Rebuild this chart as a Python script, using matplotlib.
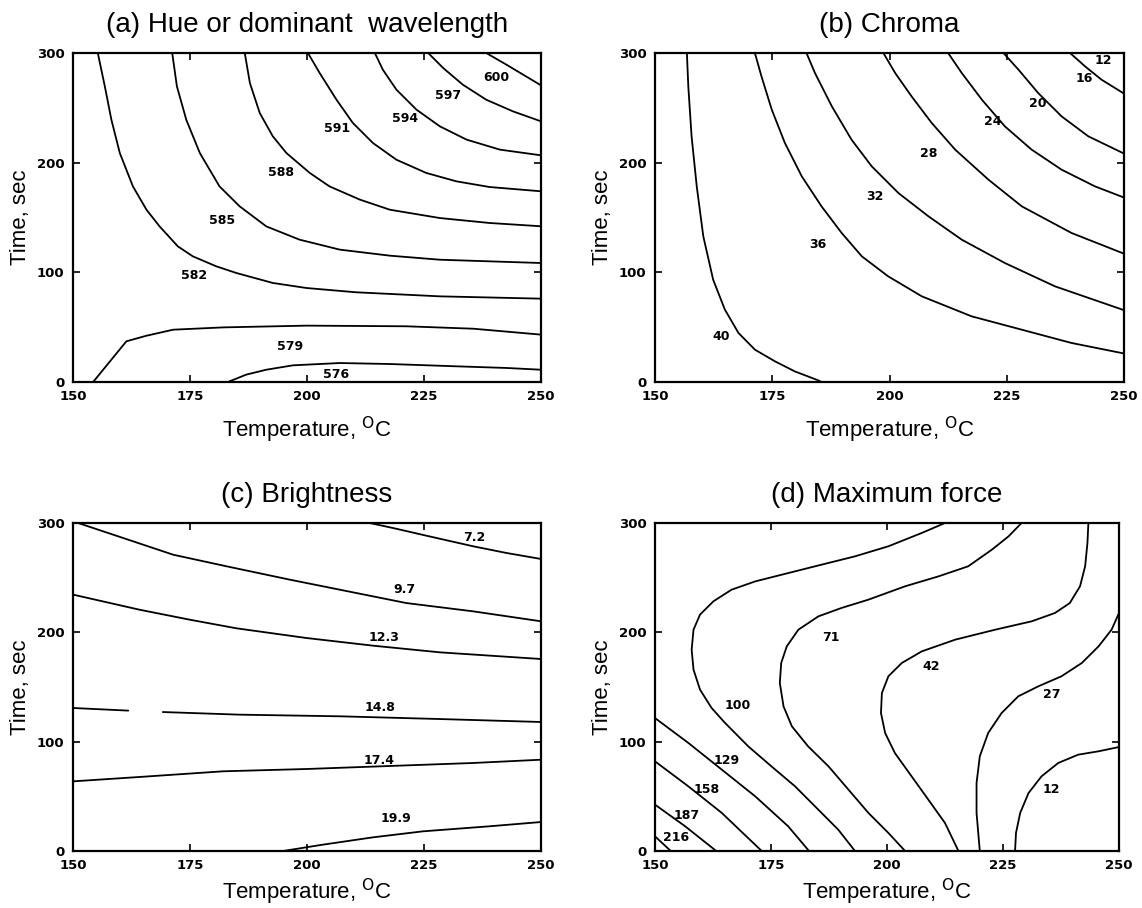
import numpy as np
import matplotlib
matplotlib.use("Agg")
import matplotlib.pyplot as plt

# ---- (a) hue / dominant wavelength, contours as (temperature, time) traces
hue_levels = ["600", "597", "594", "591", "588", "585", "582", "579", "576"]
hue_temp = [
    [238.3, 242.6, 246.2, 250.0],
    [225.9, 229.1, 233.3, 238.3, 244.0, 250.0],
    [214.5, 216.2, 219.1, 223.4, 228.4, 234.1, 241.2, 250.0],
    [200.2, 202.7, 206.3, 209.8, 214.1, 219.1, 225.5, 231.9, 239.0, 250.0],
    [186.7, 187.8, 189.9, 192.7, 195.6, 200.6, 204.8, 211.3, 217.7, 228.4, 239.0, 250.0],
    [171.2, 172.2, 174.2, 177.1, 181.3, 185.6, 191.3, 198.4, 207.0, 217.7, 228.4, 250.0],
    [155.3, 156.8, 158.2, 160.0, 162.8, 165.7, 168.5, 172.4, 175.6, 180.6, 184.9,
     192.7, 199.9, 210.5, 228.4, 250.0],
    [154.3, 161.4, 165.7, 171.4, 182.1, 199.9, 221.2, 235.5, 250.0],
    [183.1, 187.0, 191.3, 197.0, 207.0, 217.7, 231.9, 242.6, 250.0],
]
hue_time = [
    [300.0, 289.4, 280.2, 270.5],
    [300.0, 286.3, 271.1, 257.4, 246.8, 237.7],
    [300.0, 284.8, 266.6, 248.3, 233.1, 221.0, 211.9, 206.7],
    [300.0, 281.8, 257.4, 236.2, 217.9, 202.7, 190.6, 183.0, 177.8, 173.9],
    [300.0, 272.6, 245.3, 224.0, 208.8, 190.6, 178.4, 166.3, 157.1, 149.5, 145.0, 142.0],
    [300.0, 269.6, 239.2, 208.8, 178.4, 160.2, 141.9, 129.8, 120.7, 115.2, 111.5, 108.5],
    [300.0, 269.6, 239.2, 208.8, 178.4, 157.1, 141.9, 123.7, 114.6, 105.5, 99.4,
     90.3, 85.7, 81.8, 78.1, 76.0],
    [0.0, 37.1, 42.2, 47.7, 49.8, 51.4, 50.8, 48.6, 43.2],
    [0.0, 6.7, 11.2, 15.2, 17.3, 16.4, 14.3, 12.8, 11.2],
]
hue_lab_temp = [240.5, 230.1, 220.9, 206.5, 194.5, 181.8, 175.8, 196.3, 206.3]
hue_lab_time = [277.8, 261.4, 240.1, 230.7, 190.6, 147.1, 97.0, 32.5, 6.7]

# ---- (b) chroma
chroma_levels = ["40", "36", "32", "28", "24", "20", "16", "12"]
chroma_temp = [
    [156.8, 157.1, 157.8, 158.9, 160.3, 162.4, 164.9, 167.8, 171.3, 175.6, 179.8,
     184.8, 185.5],
    [171.3, 172.7, 174.9, 177.7, 181.3, 185.5, 189.8, 194.1, 199.7, 206.9, 217.5,
     228.2, 238.8, 250.0],
    [182.3, 184.1, 187.7, 191.9, 196.2, 201.9, 208.3, 215.4, 224.6, 235.3, 250.0],
    [198.7, 201.2, 204.7, 209.0, 214.0, 221.1, 228.2, 238.8, 250.0],
    [212.5, 215.4, 219.7, 224.6, 230.3, 236.7, 243.8, 250.0],
    [224.3, 227.5, 231.7, 236.7, 242.4, 250.0],
    [238.5, 241.7, 245.2, 250.0],
]
chroma_time = [
    [300.0, 269.6, 224.0, 178.4, 132.8, 93.3, 66.0, 44.7, 29.5, 18.8, 9.7, 1.5, 0.0],
    [300.0, 278.7, 248.3, 217.9, 187.5, 160.2, 135.9, 114.6, 96.4, 78.1, 59.9,
     47.7, 35.6, 26.0],
    [300.0, 281.8, 251.4, 221.0, 196.7, 172.3, 151.1, 129.8, 108.5, 87.2, 65.5],
    [300.0, 281.8, 260.5, 236.2, 211.9, 184.5, 160.2, 135.9, 117.0],
    [300.0, 281.8, 257.4, 233.1, 211.9, 193.6, 178.4, 168.2],
    [300.0, 284.8, 263.5, 242.2, 224.0, 208.3],
    [300.0, 287.8, 275.7, 263.0],
]
chroma_lab_temp = [164.2, 184.8, 196.8, 208.4, 222.1, 231.6, 241.5, 245.6]
chroma_lab_time = [41.6, 125.2, 169.3, 208.2, 237.1, 254.4, 276.3, 293.3]

# ---- (c) brightness (14.8 line has a break near 165 C)
bright_levels = ["7.2", "9.7", "12.3", "14.8", "17.4", "19.9"]
bright_temp = [
    [213.4, 218.4, 225.5, 235.5, 242.6, 250.0],
    [151.1, 160.7, 171.4, 182.8, 196.3, 210.5, 221.2, 235.5, 250.0],
    [150.0, 164.2, 174.9, 184.9, 199.9, 214.1, 228.4, 250.0],
    [150.0, 161.8, 165.5, 169.2, 185.6, 207.0, 228.4, 250.0],
    [150.0, 164.2, 182.1, 199.9, 221.2, 235.5, 250.0],
    [194.9, 203.4, 214.1, 224.8, 239.0, 250.0],
]
bright_time = [
    [300.0, 295.4, 288.4, 278.7, 272.6, 267.1],
    [300.0, 286.3, 271.0, 260.4, 248.2, 236.0, 226.8, 219.2, 210.1],
    [234.5, 220.7, 211.6, 203.7, 194.8, 187.8, 181.7, 175.6],
    [130.8, 128.4, np.nan, 127.1, 124.7, 123.2, 120.7, 118.0],
    [63.7, 67.7, 72.9, 75.0, 78.3, 80.5, 83.5],
    [0.0, 5.8, 12.5, 18.0, 22.6, 26.5],
]
bright_lab_temp = [235.8, 220.9, 216.4, 215.7, 215.5, 219.1]
bright_lab_time = [286.3, 239.6, 195.4, 131.4, 82.9, 29.3]

# ---- (d) maximum force
force_levels = ["216", "187", "158", "129", "100", "71", "42", "27", "12"]
force_temp = [
    [150.0, 153.4],
    [150.0, 156.5, 163.2],
    [150.0, 157.2, 164.4, 173.0],
    [150.0, 157.2, 164.4, 171.6, 178.7, 183.2],
    [212.5, 207.5, 200.3, 193.1, 184.5, 177.3, 171.6, 166.5, 162.6, 159.7, 158.3,
     157.9, 158.3, 159.7, 162.2, 165.1, 170.1, 175.1, 180.2, 185.2, 189.5, 193.1],
    [229.0, 226.2, 222.6, 217.5, 211.1, 203.9, 196.0, 190.2, 185.2, 180.9, 178.4,
     177.2, 176.9, 177.7, 179.5, 183.0, 187.4, 191.7, 196.0, 200.3, 203.9],
    [243.4, 243.2, 242.7, 241.6, 239.4, 236.2, 231.2, 223.3, 214.7, 207.5, 203.2,
     200.3, 198.9, 198.7, 199.6, 201.7, 205.3, 208.9, 212.5, 215.4],
    [250.0, 248.4, 245.6, 242.0, 237.6, 232.6, 228.3, 224.7, 221.8, 220.0, 219.3,
     219.3, 220.0],
    [250.0, 245.6, 241.2, 236.9, 233.3, 230.5, 228.7, 227.8, 227.6],
]
force_time = [
    [13.4, 0.0],
    [42.4, 22.6, 0.0],
    [82.0, 59.1, 34.8, 0.0],
    [121.6, 98.8, 74.4, 50.0, 22.6, 0.0],
    [300.0, 290.9, 278.7, 269.5, 260.4, 252.7, 246.6, 239.0, 228.4, 216.2, 202.4,
     184.1, 165.9, 147.6, 130.8, 117.1, 95.7, 77.4, 59.1, 37.8, 19.5, 0.0],
    [300.0, 287.8, 275.6, 260.4, 251.2, 242.1, 229.9, 222.3, 214.6, 202.4, 187.2,
     172.0, 153.7, 132.3, 114.0, 95.7, 77.4, 56.1, 34.8, 16.5, 0.0],
    [300.0, 281.7, 260.4, 242.1, 226.8, 217.7, 210.1, 202.4, 193.3, 182.6, 172.0,
     159.8, 144.5, 126.2, 107.9, 89.6, 68.3, 47.0, 25.6, 0.0],
    [217.7, 202.4, 187.2, 172.0, 159.8, 150.6, 141.5, 126.2, 107.9, 86.6, 62.2,
     34.8, 0.0],
    [95.1, 91.2, 88.1, 80.5, 68.3, 53.0, 34.8, 16.5, 0.0],
]
force_lab_temp = [154.5, 156.8, 161.1, 165.4, 167.8, 187.9, 209.5, 235.5, 235.5]
force_lab_time = [11.9, 32.9, 56.1, 82.9, 132.9, 195.7, 168.9, 143.0, 56.1]

x_ticks = [150, 175, 200, 225, 250]
y_ticks = [0, 100, 200, 300]

panels = [
    ("(a) Hue or dominant  wavelength", hue_temp, hue_time, hue_levels,
     hue_lab_temp, hue_lab_time),
    ("(b) Chroma", chroma_temp, chroma_time, chroma_levels,
     chroma_lab_temp, chroma_lab_time),
    ("(c) Brightness", bright_temp, bright_time, bright_levels,
     bright_lab_temp, bright_lab_time),
    ("(d) Maximum force", force_temp, force_time, force_levels,
     force_lab_temp, force_lab_time),
]

W, H = 1142, 908
fig = plt.figure(figsize=(W / 100, H / 100), dpi=100)
# axes boxes in pixels: left, top, right, bottom
boxes = [(73, 53, 541, 382), (655, 53, 1124, 382),
         (73, 523, 541, 851), (655, 523, 1119, 851)]
xlabel_pads = [8, 8, 3, 3]

sans = ["Liberation Sans", "DejaVu Sans"]
for (title, temps, times, labs, lx, ly), (l, t, r, b), xpad in zip(panels, boxes, xlabel_pads):
    ax = fig.add_axes([l / W, 1 - b / H, (r - l) / W, (b - t) / H])
    for xs, ys in zip(temps, times):
        ax.plot(xs, ys, color="black", lw=1.3, solid_capstyle="round",
                solid_joinstyle="round")
    for s, x, y in zip(labs, lx, ly):
        ax.text(x, y, s, ha="center", va="center", fontsize=9,
                fontweight="bold", family="DejaVu Sans")
    ax.set_xlim(150, 250)
    ax.set_ylim(0, 300)
    ax.set_xticks(x_ticks)
    ax.set_yticks(y_ticks)
    ax.tick_params(direction="in", top=True, right=True, length=5, width=1.2,
                   labelsize=9.5, pad=6)
    for lab in ax.get_xticklabels() + ax.get_yticklabels():
        lab.set_fontweight("bold")
    for sp in ax.spines.values():
        sp.set_linewidth(1.6)
    ax.set_title(title, fontsize=20, family=sans, pad=15)
    ax.set_xlabel("Temperature, $^{\\rm O}$C", fontsize=16, family=sans,
                  labelpad=xpad)
    ax.set_ylabel("Time, sec", fontsize=16, family=sans, labelpad=4)

fig.savefig("out.png", dpi=100)
